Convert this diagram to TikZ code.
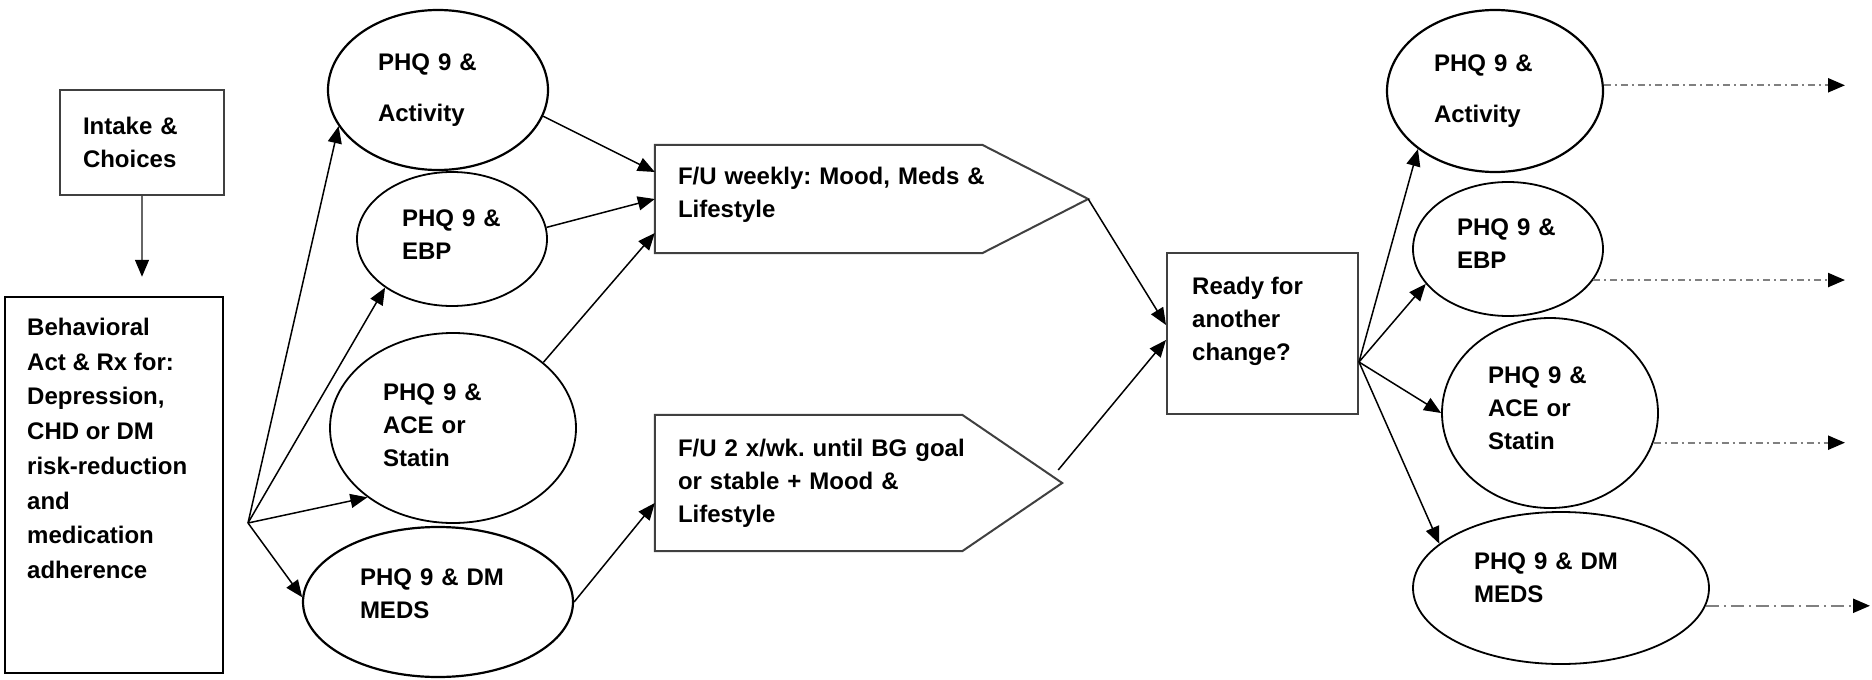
\documentclass[tikz,border=0pt]{standalone}
\usepackage{fontspec}
\setmainfont{Liberation Sans}
\usetikzlibrary{arrows.meta,shapes.geometric}
\newcommand{\lift}[1]{\rule[-#1]{0pt}{0pt}}
\frenchspacing

\begin{document}
\begin{tikzpicture}[x=1pt,y=-1pt,
    every node/.style={font=\bfseries\fontsize{24}{33}\selectfont, align=left},
    phq/.style={ellipse, draw, line width=1.8pt, inner sep=0pt},
    plainbox/.style={rectangle, draw=black!75, line width=2pt, inner sep=0pt},
    flow/.style={line width=1.5pt, -{Triangle[length=17pt,width=14pt,color=black]}},
    nextstep/.style={draw=black!50, line width=2.2pt, dash pattern=on 7pt off 4pt on 2pt off 4pt, -{Triangle[length=17pt,width=14pt,color=black]}}]
  \useasboundingbox (0,0) rectangle (1872,680);

  \node[plainbox, minimum width=164pt, minimum height=105pt, text width=118pt] (intake) at (142,142.5) {Intake \&\\Choices};
  \node[plainbox, draw=black, line width=2.5pt, minimum width=218pt, minimum height=376pt] (behav) at (114,485) {};
  \node[anchor=north west, inner sep=0pt, font=\bfseries\fontsize{24}{34.7}\selectfont] (behavtxt) at (27,318) {Behavioral\\Act \& Rx for:\\Depression,\\CHD or DM\\risk-reduction\\and\\medication\\adherence};

  \node[phq, line width=2.2pt, minimum width=220pt, minimum height=160pt, text width=120pt, font=\bfseries\fontsize{24}{51}\selectfont] (act) at (438,90) {PHQ 9 \&\\Activity};
  \node[phq, minimum width=190pt, minimum height=134pt, text width=100pt] (ebp) at (452,239) {PHQ 9 \&\\EBP\lift{8pt}};
  \node[phq, minimum width=246pt, minimum height=190pt, text width=140pt] (ace) at (453,428) {PHQ 9 \&\\ACE or\\Statin\lift{6pt}};
  \node[phq, line width=2.2pt, minimum width=270pt, minimum height=150pt, text width=156pt] (dm) at (438,602) {PHQ 9 \& DM\\MEDS\lift{16pt}};

  \node[minimum width=433pt, minimum height=108pt, text width=387pt, inner sep=0pt] (weekly) at (871.5,199) {F/U weekly: Mood, Meds \&\\Lifestyle\lift{14pt}};
  \draw[draw=black!75, line width=2pt] (weekly.north west) -- ([xshift=-106pt]weekly.north east) -- (weekly.east) -- ([xshift=-106pt]weekly.south east) -- (weekly.south west) -- cycle;
  \node[minimum width=407pt, minimum height=136pt, text width=361pt, inner sep=0pt] (twice) at (858.5,483) {F/U 2 x/wk. until BG goal\\or stable + Mood \&\\Lifestyle};
  \draw[draw=black!75, line width=2pt] (twice.north west) -- ([xshift=-100pt]twice.north east) -- (twice.east) -- ([xshift=-100pt]twice.south east) -- (twice.south west) -- cycle;

  \node[plainbox, minimum width=191pt, minimum height=161pt] (ready) at (1262.5,333.5) {};
  \node[anchor=north west, inner sep=0pt] (readytxt) at (1192,277) {Ready for\\another\\change?};

  \node[phq, line width=2.2pt, minimum width=216pt, minimum height=162pt, text width=122pt, font=\bfseries\fontsize{24}{51}\selectfont] (act2) at (1495,91) {PHQ 9 \&\\Activity};
  \node[phq, minimum width=190pt, minimum height=134pt, text width=102pt] (ebp2) at (1508,249) {PHQ 9 \&\\EBP\lift{10pt}};
  \node[phq, minimum width=216pt, minimum height=190pt, text width=124pt] (ace2) at (1550,413) {PHQ 9 \&\\ACE or\\Statin\lift{10pt}};
  \node[phq, minimum width=296pt, minimum height=152pt, text width=174pt] (dm2) at (1561,588) {PHQ 9 \& DM\\MEDS\lift{20pt}};

  \coordinate (fanL) at (248,523);
  \coordinate (fanR) at ([yshift=-28.5pt]ready.east);
  \coordinate (out1) at (1845,86);
  \coordinate (out4) at (1870,605);

  \draw[flow, draw=black!60, shorten >=19pt] (intake.south) -- (intake.south |- behav.north);
  \draw[flow] (fanL) -- (act.200);
  \draw[flow] (fanL) -- (ebp.216);
  \draw[flow] (fanL) -- (ace.219);
  \draw[flow] (fanL) -- (dm.178);
  \draw[flow] (act.346) -- ([yshift=27pt]weekly.west);
  \draw[flow] (ebp.7) -- (weekly.west);
  \draw[flow] (ace.36) -- ([yshift=-34pt]weekly.west);
  \draw[flow] (dm.east) -- ([yshift=-20pt]twice.west);
  \draw[flow] (weekly.east) -- ([yshift=8.5pt]ready.west);
  \draw[flow] ([shift={(-4pt,13pt)}]twice.east) -- ([yshift=-6.5pt]ready.west);
  \draw[flow] (fanR) -- (act2.217);
  \draw[flow] (fanR) -- (ebp2.203);
  \draw[flow] (fanR) -- (ace2.west);
  \draw[flow] (fanR) -- (dm2.160);

  \draw[nextstep] (act2.3) -- (act2.3 -| out1);
  \draw[nextstep] (ebp2.340) -- (ebp2.340 -| out1);
  \draw[nextstep] (ace2.344) -- (ace2.344 -| out1);
  \draw[nextstep, dash pattern=on 13pt off 5pt on 2pt off 5pt] (dm2.353) -- (dm2.353 -| out4);
\end{tikzpicture}
\end{document}
